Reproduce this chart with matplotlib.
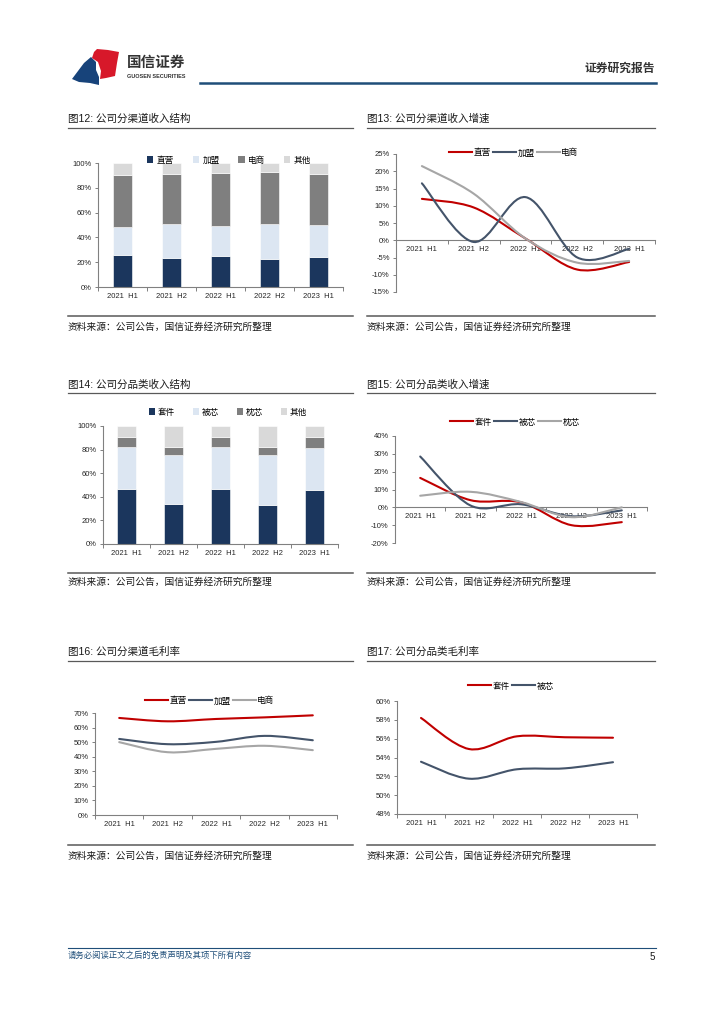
import matplotlib
matplotlib.use("Agg")
import matplotlib.pyplot as plt
import numpy as np
from matplotlib.path import Path
from matplotlib.patches import PathPatch, Patch, Polygon
from matplotlib.lines import Line2D
from matplotlib.ticker import FixedLocator, NullFormatter, FixedFormatter

plt.rcParams['font.family'] = ['Liberation Sans', 'Noto Sans CJK SC', 'DejaVu Sans']

W, H = 724, 1024

# ---------------- data ----------------
periods = ["2021  H1", "2021  H2", "2022  H1", "2022  H2", "2023  H1"]

# Fig 12: channel revenue structure (%)
ch_names = ["直营", "加盟", "电商", "其他"]
ch_direct = [25.5, 23.0, 25.0, 22.5, 24.5]
ch_franchise = [22.5, 28.0, 24.5, 28.5, 25.5]
ch_ecom = [42.5, 40.5, 42.5, 41.5, 41.5]
ch_other = [9.5, 8.5, 8.0, 7.5, 8.5]

# Fig 13: channel revenue growth (%)
gr_direct = [12.0, 9.5, 0.5, -8.5, -6.3]
gr_franchise = [16.5, -0.5, 12.5, -5.0, -2.5]
gr_ecom = [21.5, 13.5, 0.5, -6.5, -6.0]

# Fig 14: product revenue structure (%)
pr_names = ["套件", "被芯", "枕芯", "其他"]
pr_set = [47.0, 34.0, 47.0, 33.0, 45.5]
pr_quilt = [35.5, 41.5, 35.5, 42.5, 36.0]
pr_pillow = [8.0, 7.0, 8.0, 7.0, 9.0]
pr_other = [9.5, 17.5, 9.5, 17.5, 9.5]

# Fig 15: product revenue growth (%)
pg_set = [16.5, 4.0, 2.8, -10.0, -8.3]
pg_quilt = [28.5, 1.0, 1.7, -5.0, -1.7]
pg_pillow = [6.5, 8.7, 3.0, -5.5, 0.0]

# Fig 16: channel gross margin (%)
gm_direct = [66.6, 64.3, 65.9, 67.0, 68.4]
gm_franchise = [52.2, 48.6, 50.2, 54.3, 51.3]
gm_ecom = [50.0, 43.1, 45.4, 47.5, 44.5]

# Fig 17: product gross margin (%)
pm_set = [58.2, 54.9, 56.25, 56.15, 56.1]
pm_quilt = [53.55, 51.75, 52.75, 52.85, 53.5]

# ---------------- style ----------------
NAVY = "#1b365d"
LIGHT = "#dce6f2"
GREY = "#7f7f7f"
LGREY = "#d9d9d9"
RED = "#c00000"
SLATE = "#44546a"
SILVER = "#a6a6a6"
AXC = "#808080"
TXT = "#262626"

fig = plt.figure(figsize=(W / 100, H / 100), dpi=100)


def fx(x):
    return x / W


def fy(y):
    return 1 - y / H


def add_ax(l, t, r, b):
    return fig.add_axes([fx(l), fy(b), fx(r) - fx(l), fy(t) - fy(b)])


def hline(x0, x1, y, color, lw):
    fig.add_artist(Line2D([fx(x0), fx(x1)], [fy(y), fy(y)], transform=fig.transFigure,
                          color=color, lw=lw))


def smooth_path(xs, ys):
    pts = np.column_stack([xs, ys]).astype(float)
    n = len(pts)
    verts = [pts[0]]
    codes = [Path.MOVETO]
    for i in range(n - 1):
        p0 = pts[i - 1] if i > 0 else pts[i]
        p1 = pts[i]
        p2 = pts[i + 1]
        p3 = pts[i + 2] if i + 2 < n else pts[i + 1]
        c1 = p1 + (p2 - p0) / 6.0
        c2 = p2 - (p3 - p1) / 6.0
        verts += [c1, c2, p2]
        codes += [Path.CURVE4] * 3
    return Path(verts, codes)


def style_axes(ax, ymin, ymax, ystep, zero_axis=False):
    x = np.arange(len(periods))
    ax.set_xlim(-0.5, len(periods) - 0.5)
    ax.set_ylim(ymin, ymax)
    for s in ["top", "right"]:
        ax.spines[s].set_visible(False)
    for s in ["left", "bottom"]:
        ax.spines[s].set_color(AXC)
        ax.spines[s].set_linewidth(0.8)
    if zero_axis:
        ax.spines["bottom"].set_position(("data", 0))
    yt = np.arange(ymin, ymax + 0.001, ystep)
    ax.set_yticks(yt)
    ax.set_yticklabels([f"{v:.0f}%" for v in yt])
    ax.xaxis.set_major_locator(FixedLocator(np.arange(-0.5, len(periods), 1.0)))
    ax.xaxis.set_major_formatter(NullFormatter())
    ax.xaxis.set_minor_locator(FixedLocator(x))
    ax.xaxis.set_minor_formatter(FixedFormatter(periods))
    ax.tick_params(axis="x", which="major", length=3, width=0.7, color=AXC, direction="out")
    ax.tick_params(axis="x", which="minor", length=0, labelsize=5.5, labelcolor=TXT, pad=4)
    ax.tick_params(axis="y", length=2.5, width=0.7, color=AXC, labelsize=5.5,
                   labelcolor=TXT, pad=2)
    ax.patch.set_alpha(0)


def panel_frame(x0, x1, ytitle, yline, ysrc_line, ysrc, title):
    fig.text(fx(x0), fy(ytitle), title, fontsize=7.6, color="#1a1a1a", va="center", ha="left")
    hline(x0, x1, yline, "#595959", 0.9)
    hline(x0, x1, ysrc_line, "#595959", 1.1)
    fig.text(fx(x0), fy(ysrc), "资料来源：公司公告，国信证券经济研究所整理", fontsize=7,
             color="#1a1a1a", va="center", ha="left")


def stacked(ax, series, colors, names, leg_center, colspace):
    x = np.arange(len(periods))
    bottom = np.zeros(len(periods))
    handles = []
    for vals, c, nm in zip(series, colors, names):
        ax.bar(x, vals, width=0.39, bottom=bottom, color=c, edgecolor="white",
               linewidth=0.4, zorder=2)
        bottom = bottom + np.array(vals)
        handles.append(Patch(facecolor=c, edgecolor="none", label=nm))
    fig.legend(handles=handles, loc="center", bbox_to_anchor=(fx(leg_center[0]), fy(leg_center[1])),
               ncol=len(names), frameon=False, fontsize=6.2, handlelength=0.7, handleheight=0.7,
               handletextpad=0.4, columnspacing=colspace, borderpad=0)


def lines(ax, series, colors, names, leg_center):
    x = np.arange(len(periods))
    handles = []
    for vals, c, nm in zip(series, colors, names):
        p = smooth_path(x, vals)
        ax.add_patch(PathPatch(p, facecolor="none", edgecolor=c, lw=1.5, zorder=3,
                               capstyle="round", joinstyle="round"))
        handles.append(Line2D([], [], color=c, lw=1.5, label=nm))
    fig.legend(handles=handles, loc="center", bbox_to_anchor=(fx(leg_center[0]), fy(leg_center[1])),
               ncol=len(names), frameon=False, fontsize=6.2, handlelength=2.6,
               handletextpad=0.2, columnspacing=0.3, borderpad=0)


# ---------------- header ----------------
blue_logo = [(72, 79), (84, 63), (91, 57), (96, 62), (96, 70), (99, 77), (99, 85), (90, 83), (79, 82)]
red_logo = [(92, 58), (94, 52), (97, 49), (108, 50), (119, 52), (117, 63), (115, 76), (106, 78),
            (100, 79), (101, 71), (98, 62)]
fig.add_artist(Polygon([(fx(a), fy(b)) for a, b in blue_logo], closed=True, transform=fig.transFigure,
                       facecolor="#17437a", edgecolor="none"))
fig.add_artist(Polygon([(fx(a), fy(b)) for a, b in red_logo], closed=True, transform=fig.transFigure,
                       facecolor="#d7182a", edgecolor="none"))
fig.text(fx(127), fy(63), "国信证券", fontsize=10.5, fontweight="bold", color="#333333",
         va="center", ha="left")
fig.text(fx(127), fy(77), "GUOSEN SECURITIES", fontsize=4, fontweight="bold", color="#333333",
         va="center", ha="left")
fig.text(fx(655), fy(69), "证券研究报告", fontsize=8.5, fontweight="bold", color="#333333",
         va="center", ha="right")
hline(200, 656, 82.5, "#1f4e79", 1.8)

# ---------------- panels ----------------
LX0, LX1 = 68, 353
RX0, RX1 = 367, 655

# Fig 12
panel_frame(LX0, LX1, 119, 128, 316, 327, "图12: 公司分渠道收入结构")
ax12 = add_ax(98, 163, 343, 287)
style_axes(ax12, 0, 100, 20)
stacked(ax12, [ch_direct, ch_franchise, ch_ecom, ch_other], [NAVY, LIGHT, GREY, LGREY],
        ch_names, (229, 160), 2.2)

# Fig 13
panel_frame(RX0, RX1, 119, 128, 316, 327, "图13: 公司分渠道收入增速")
ax13 = add_ax(396, 154, 655, 292)
style_axes(ax13, -15, 25, 5, zero_axis=True)
lines(ax13, [gr_direct, gr_franchise, gr_ecom], [RED, SLATE, SILVER], ["直营", "加盟", "电商"], (514, 153))

# Fig 14
panel_frame(LX0, LX1, 385, 393, 573, 582, "图14: 公司分品类收入结构")
ax14 = add_ax(103, 426, 338, 544)
style_axes(ax14, 0, 100, 20)
stacked(ax14, [pr_set, pr_quilt, pr_pillow, pr_other], [NAVY, LIGHT, GREY, LGREY],
        pr_names, (228, 412), 2.0)

# Fig 15
panel_frame(RX0, RX1, 385, 393, 573, 582, "图15: 公司分品类收入增速")
ax15 = add_ax(395, 436, 647, 543)
style_axes(ax15, -20, 40, 10, zero_axis=True)
lines(ax15, [pg_set, pg_quilt, pg_pillow], [RED, SLATE, SILVER], ["套件", "被芯", "枕芯"], (515, 422))

# Fig 16
panel_frame(LX0, LX1, 652, 661, 845, 856, "图16: 公司分渠道毛利率")
ax16 = add_ax(95, 713, 337, 815)
style_axes(ax16, 0, 70, 10)
lines(ax16, [gm_direct, gm_franchise, gm_ecom], [RED, SLATE, SILVER], ["直营", "加盟", "电商"], (210, 701))

# Fig 17
panel_frame(RX0, RX1, 652, 661, 845, 856, "图17: 公司分品类毛利率")
ax17 = add_ax(397, 701, 637, 814)
style_axes(ax17, 48, 60, 2)
lines(ax17, [pm_set, pm_quilt], [RED, SLATE], ["套件", "被芯"], (511, 686))

# ---------------- footer ----------------
hline(68, 656, 948, "#1f4e79", 0.8)
fig.text(fx(68), fy(956), "请务必阅读正文之后的免责声明及其项下所有内容", fontsize=6, color="#1f4e79",
         style="italic", va="center", ha="left")
fig.text(fx(655), fy(957), "5", fontsize=7, color="#1a1a1a", va="center", ha="right")

fig.savefig("out.png", dpi=100)
